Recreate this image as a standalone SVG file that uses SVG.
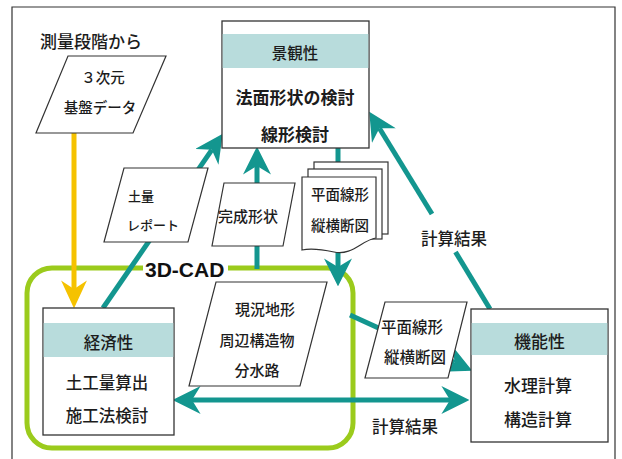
<svg xmlns="http://www.w3.org/2000/svg" width="622" height="459" viewBox="0 0 622 459">
<style>
.t{font-family:"Noto Sans CJK JP","Noto Sans",sans-serif;fill:#1c1c1c;text-anchor:middle;font-weight:500}
.box{fill:#fff;stroke:#333;stroke-width:1.3}
.band{fill:#b8dcdc}
.par{fill:#fff;stroke:#333;stroke-width:1.2}
.tl{stroke:#13968f;stroke-width:5;fill:none}
</style>
<defs>
<marker id="ah" markerUnits="userSpaceOnUse" markerWidth="28" markerHeight="28" viewBox="0 0 26 26" refX="8" refY="13" orient="auto-start-reverse">
<path d="M0,0 L26,13 L0,26 L8,13 Z" fill="#13968f"/>
</marker>
<marker id="ay" markerUnits="userSpaceOnUse" markerWidth="28" markerHeight="28" viewBox="0 0 26 26" refX="8" refY="13" orient="auto">
<path d="M0,1 L26,13 L0,25 L8,13 Z" fill="#f5c200"/>
</marker>
</defs>
<rect x="0" y="0" width="622" height="459" fill="#fff"/>
<path d="M12,470 V7 H615 V470" fill="none" stroke="#333" stroke-width="1.2"/>

<g id="cad">
<rect x="27" y="268" width="326" height="180" rx="25" fill="none" stroke="#9bcb1c" stroke-width="5"/>
<rect x="143" y="258" width="85" height="20" fill="#fff"/>
<text x="145" y="277" style="font-family:'Liberation Sans',Arial,sans-serif;font-weight:bold;font-size:21px;fill:#111">3D-CAD</text>
</g>

<g id="connectors">
<line x1="74" y1="133" x2="74" y2="289" stroke="#f5c200" stroke-width="5" marker-end="url(#ay)"/>
<line class="tl" x1="103" y1="308" x2="211.8" y2="149.8" marker-end="url(#ah)"/>
<line class="tl" x1="257" y1="269" x2="257" y2="166" marker-end="url(#ah)"/>
<line class="tl" x1="338" y1="148" x2="338" y2="267" marker-end="url(#ah)"/>
<line class="tl" x1="490" y1="309" x2="455.5" y2="252"/>
<line class="tl" x1="432" y1="214" x2="379.4" y2="128.3" marker-end="url(#ah)"/>
<line class="tl" x1="192" y1="400" x2="450" y2="400" marker-start="url(#ah)" marker-end="url(#ah)"/>
<line class="tl" x1="350" y1="315" x2="454.6" y2="362.6" marker-end="url(#ah)"/>
<text class="t" x="454" y="245" font-size="16.5">計算結果</text>
<text class="t" x="405" y="433" font-size="16.5">計算結果</text>
</g>

<g id="n-source">
<text class="t" x="91" y="48" font-size="17">測量段階から</text>
<polygon class="par" points="68,56 166,56 133,133 36,133"/>
<text class="t" x="103" y="83" font-size="14.5">３次元</text>
<text class="t" x="100" y="113" font-size="14.5">基盤データ</text>
</g>

<g id="n-keikan">
<rect class="box" x="222" y="21" width="147" height="127"/>
<rect class="band" x="222.7" y="34" width="145.6" height="34"/>
<text class="t" x="295" y="59" font-size="15.5">景観性</text>
<text class="t" x="295" y="104" font-size="17" style="font-weight:bold">法面形状の検討</text>
<text class="t" x="295" y="141" font-size="17" style="font-weight:bold">線形検討</text>
</g>

<g id="n-doryo">
<polygon class="par" points="124,168 208,168 188,242 104,242"/>
<text class="t" x="128" y="201" font-size="13" style="text-anchor:start">土量</text>
<text class="t" x="127" y="230" font-size="13" style="text-anchor:start">レポート</text>
</g>

<g id="n-kansei">
<polygon class="par" points="224,183 295,183 283,246 212,246"/>
<text class="t" x="248" y="222" font-size="15">完成形状</text>
</g>

<g id="n-docs">
<rect x="314" y="162" width="74" height="72" fill="#fff" stroke="#333" stroke-width="1.2"/>
<rect x="308" y="169" width="74" height="70" fill="#fff" stroke="#333" stroke-width="1.2"/>
<path d="M302,177 H376 V238 C362,240 352,256 334,252 C320,249 311,248 302,250 Z" fill="#fff" stroke="#333" stroke-width="1.2"/>
<text class="t" x="340" y="200" font-size="14.5">平面線形</text>
<text class="t" x="340" y="231" font-size="14.5">縦横断図</text>
</g>

<g id="n-genkyo">
<polygon class="par" points="216,282 327,282 300,386 189,386"/>
<text class="t" x="265" y="315" font-size="15">現況地形</text>
<text class="t" x="257" y="346" font-size="15">周辺構造物</text>
<text class="t" x="257" y="376" font-size="15">分水路</text>
</g>

<g id="n-heimen">
<polygon class="par" points="385,302 467,302 448,378 365,378"/>
<text class="t" x="412" y="333" font-size="15.5">平面線形</text>
<text class="t" x="415" y="363" font-size="15.5">縦横断図</text>
</g>

<g id="n-keizai">
<rect class="box" x="43" y="308" width="131" height="127"/>
<rect class="band" x="43.7" y="323" width="129.6" height="34"/>
<text class="t" x="108.5" y="349" font-size="16.5">経済性</text>
<text class="t" x="107" y="389" font-size="16.5">土工量算出</text>
<text class="t" x="107" y="422" font-size="16.5">施工法検討</text>
</g>

<g id="n-kinou">
<rect class="box" x="471" y="309" width="137" height="133"/>
<rect class="band" x="471.7" y="323" width="135.6" height="32"/>
<text class="t" x="539.5" y="348" font-size="17">機能性</text>
<text class="t" x="538" y="392" font-size="17">水理計算</text>
<text class="t" x="538" y="426" font-size="17">構造計算</text>
</g>
</svg>
